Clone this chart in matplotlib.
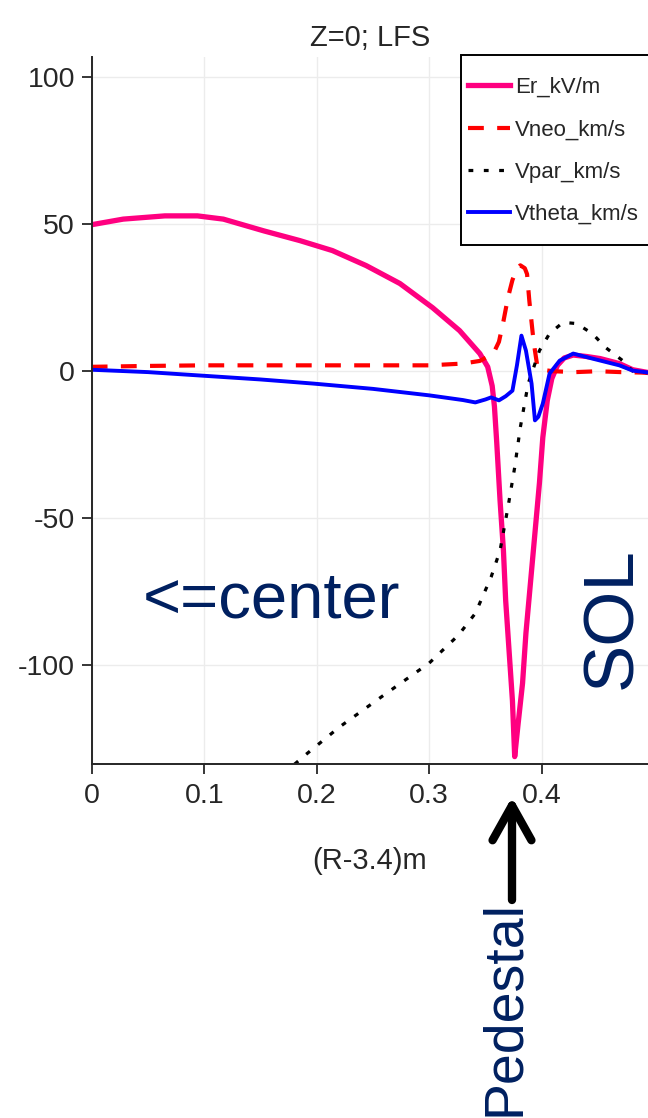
import matplotlib
matplotlib.use("Agg")
import matplotlib.pyplot as plt
from matplotlib.patches import Rectangle

# Er profile (kV/m)
er_x = [0, 0.028, 0.065, 0.094, 0.117, 0.153, 0.185, 0.214, 0.244, 0.274, 0.303, 0.327, 0.345,
        0.352, 0.356, 0.358, 0.360, 0.363, 0.366, 0.368, 0.371, 0.374, 0.376, 0.379, 0.383, 0.386,
        0.390, 0.394, 0.398, 0.401, 0.405, 0.409, 0.414, 0.420, 0.428, 0.440, 0.452, 0.469, 0.481, 0.494]
er_y = [49.8, 51.7, 52.8, 52.8, 51.7, 47.7, 44.4, 41.0, 35.9, 29.8, 21.6, 13.8, 6.0,
        1.5, -5, -12, -24, -44, -61, -78, -95, -112, -131, -120, -106, -89,
        -72, -55, -38, -22.5, -9.9, -2.5, 2.0, 4.5, 5.5, 5.0, 4.3, 2.6, 0.5, -0.4]

# Vneo (km/s)
neo_x = [0, 0.05, 0.1, 0.2, 0.3, 0.33, 0.345, 0.357, 0.362, 0.366, 0.370, 0.374, 0.378, 0.381,
         0.385, 0.387, 0.389, 0.392, 0.394, 0.396, 0.400, 0.41, 0.43, 0.45, 0.47, 0.494]
neo_y = [1.5, 1.8, 2.0, 2.0, 2.0, 2.6, 3.5, 6.0, 10, 17, 25, 31, 35, 36,
         35, 33, 24, 13, 7, 2, 0.5, 0.0, -0.3, 0.0, -0.3, -0.5]

# Vpar (km/s)
par_x = [0.17, 0.179, 0.190, 0.22, 0.26, 0.300, 0.326, 0.341, 0.355, 0.363, 0.370, 0.376, 0.381,
         0.388, 0.398, 0.407, 0.419, 0.431, 0.445, 0.457, 0.472, 0.481, 0.494]
par_y = [-137, -134, -130.4, -121, -110, -99.2, -89.7, -82.3, -70, -60.9, -46.3, -32.7, -19.1,
         -4.2, 7.0, 12.8, 16.6, 16.2, 12.8, 8.0, 3.6, 0, -0.5]

# Vtheta (km/s)
th_x = [0, 0.05, 0.094, 0.15, 0.197, 0.25, 0.300, 0.330, 0.341, 0.350, 0.355, 0.362, 0.368, 0.374,
        0.378, 0.382, 0.386, 0.391, 0.394, 0.397, 0.401, 0.407, 0.416, 0.428, 0.445, 0.469, 0.481, 0.494]
th_y = [0.5, -0.3, -1.4, -2.8, -4.2, -6, -8.2, -9.8, -10.6, -9.6, -8.9, -9.9, -8.5, -6.6,
        2, 12.1, 7.0, -4.2, -16.7, -15.5, -11, -0.8, 3.6, 6.0, 4.3, 2.0, 0.2, -0.4]

xticks = [0, 0.1, 0.2, 0.3, 0.4]
xtick_labels = ["0", "0.1", "0.2", "0.3", "0.4"]
yticks = [100, 50, 0, -50, -100]

plt.rcParams["font.family"] = ["Liberation Sans", "DejaVu Sans"]
plt.rcParams["axes.unicode_minus"] = False
gray = "#262626"
navy = "#002060"

fig = plt.figure(figsize=(6.48, 11.18), dpi=100)
ax = fig.add_axes([91.7 / 648, 354 / 1118, 1 - 91.7 / 648, (1061 - 354) / 1118])

ax.plot(er_x, er_y, color="#ff0080", lw=3.8, label="Er_kV/m")
ax.plot(neo_x, neo_y, color="#ff0000", lw=3.0, dashes=(3.8, 3.2), label="Vneo_km/s")
ax.plot(par_x, par_y, color="black", lw=2.3, dashes=(1.5, 3.3), label="Vpar_km/s")
ax.plot(th_x, th_y, color="#0000ff", lw=2.8, label="Vtheta_km/s")

ax.set_xlim(0, 0.4945)
ax.set_ylim(-133.5, 106.8)
ax.set_xticks(xticks)
ax.set_xticklabels(xtick_labels)
ax.set_yticks(yticks)
ax.grid(True, color="#ececec", lw=1.0)
ax.set_axisbelow(True)

for s in ["top", "right"]:
    ax.spines[s].set_visible(False)
for s in ["left", "bottom"]:
    ax.spines[s].set_linewidth(1.4)
    ax.spines[s].set_color(gray)

ax.tick_params(direction="out", length=7, width=1.3, color=gray, labelcolor=gray, labelsize=20.5, pad=5)
ax.tick_params(axis="x", pad=7)

ax.set_title("Z=0; LFS", fontsize=21, color=gray, pad=8)
ax.set_xlabel("(R-3.4)m", fontsize=21, color=gray, labelpad=27)

# legend box (frame drawn separately, it runs past the right edge like the original)
box = Rectangle((460.7 / 648, 1 - 245 / 1118), 0.3, (245 - 55) / 1118,
                transform=fig.transFigure, facecolor="white", edgecolor="black",
                lw=1.4, zorder=4.9, clip_on=False)
ax.add_patch(box)
leg = ax.legend(loc="upper left", bbox_to_anchor=(468 / 648, 1 - 77 / 1118),
                bbox_transform=fig.transFigure, borderaxespad=0, borderpad=0,
                frameon=False, prop={"size": 16},
                handlelength=1.9, handletextpad=0.2, labelspacing=0.96)
for t in leg.get_texts():
    t.set_color(gray)

fig.text(143 / 648, 1 - 617 / 1118, "<=center", fontsize=47, color=navy,
         ha="left", va="baseline")
fig.text(613 / 648, 1 - 618 / 1118, "SOL", fontsize=51, color=navy,
         rotation=90, ha="center", va="center")
fig.text(505 / 648, 1 - 1008 / 1118, "Pedestal", fontsize=40, color=navy,
         rotation=90, ha="center", va="center")

ax.annotate("", xy=(512, 1118 - 797), xytext=(512, 1118 - 900),
            xycoords="figure pixels", textcoords="figure pixels",
            arrowprops=dict(arrowstyle="->,head_length=1.25,head_width=0.7", lw=6,
                            color="black", mutation_scale=20, shrinkA=0, shrinkB=0,
                            capstyle="round", joinstyle="round"))

fig.savefig("out.png", dpi=100)
